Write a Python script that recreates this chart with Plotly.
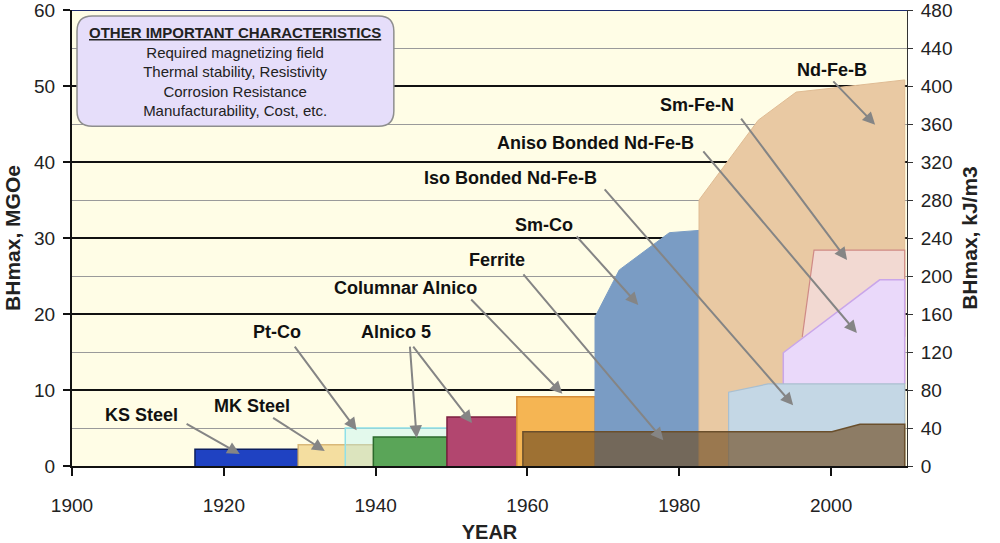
import plotly.graph_objects as go

# ---------------- data (years, MGOe) ----------------
KS_X = [1916.2, 1916.2, 1929.8, 1929.8]
KS_Y = [0, 2.2, 2.2, 0]
MK_X = [1929.8, 1929.8, 1939.7, 1939.7]
MK_Y = [0, 2.8, 2.8, 0]
PTCO_X = [1936.0, 1936.0, 1958.75, 1958.75]
PTCO_Y = [0, 5.0, 5.0, 0]
ALN5A_X = [1939.7, 1939.7, 1949.4, 1949.4]
ALN5A_Y = [0, 3.8, 3.8, 0]
ALN5B_X = [1949.4, 1949.4, 1958.75, 1958.75]
ALN5B_Y = [0, 6.45, 6.45, 0]
COLALN_X = [1958.6, 1958.6, 1968.9, 1968.9]
COLALN_Y = [0, 9.1, 9.1, 0]
SMCO_X = [1968.9, 1968.9, 1972.1, 1978.7, 1982.6, 1982.6]
SMCO_Y = [0, 19.6, 25.8, 30.7, 31.0, 0]
NDFEB_X = [1982.6, 1982.6, 1990.4, 1995.4, 2000.0, 2009.7, 2009.7]
NDFEB_Y = [0, 35.0, 45.5, 49.2, 49.7, 50.8, 0]
SMFEN_X = [1996.2, 1997.75, 2009.7, 2009.7]
SMFEN_Y = [17.0, 28.4, 28.4, 17.0]
ANISO_X = [1993.7, 1993.7, 2006.4, 2009.7, 2009.7]
ANISO_Y = [10.8, 14.9, 24.5, 24.5, 10.8]
ISO_X = [1986.5, 1986.5, 1991.7, 2009.7, 2009.7]
ISO_Y = [0, 9.7, 10.8, 10.8, 0]
FERRITE_X = [1959.4, 1959.4, 2000.1, 2003.8, 2009.7, 2009.7]
FERRITE_Y = [0, 4.5, 4.5, 5.5, 5.5, 0]

# labels: text, label x, label y
LABELS = ["KS Steel", "MK Steel", "Pt-Co", "Alnico 5", "Columnar Alnico", "Ferrite",
          "Sm-Co", "Iso Bonded Nd-Fe-B", "Aniso Bonded Nd-Fe-B", "Sm-Fe-N", "Nd-Fe-B"]
LABEL_X = [1909.1, 1923.7, 1927.0, 1942.7, 1943.9, 1956.0, 1962.2, 1957.8, 1969.0, 1982.3, 2000.1]
LABEL_Y = [6.7, 7.9, 17.6, 17.6, 23.4, 27.1, 31.7, 37.9, 42.5, 47.5, 52.1]

# arrows: start (tail) and tip
ARROW_X0 = [1914.9, 1926.3, 1929.2, 1944.5, 1944.8, 1952.4, 1959.3, 1966.3, 1970.0, 1983.0, 1988.0, 2000.1]
ARROW_Y0 = [5.66, 6.45, 15.9, 15.9, 15.9, 22.1, 25.4, 30.4, 36.6, 41.6, 45.9, 50.8]
ARROW_X1 = [1922.1, 1933.3, 1937.5, 1945.4, 1952.7, 1964.6, 1977.9, 1974.6, 1995.0, 2003.4, 2002.1, 2005.8]
ARROW_Y1 = [1.58, 1.97, 4.7, 3.7, 5.66, 9.5, 3.4, 21.2, 8.0, 17.5, 27.1, 44.9]

BOX_X = [1900.66, 1942.4]
BOX_Y = [44.7, 59.2]
BOX_R = [2.0, 2.0]
BOX_TEXT_POS = [1921.5, 51.9]
BOX_TITLE = "OTHER IMPORTANT CHARACTERISTICS"
BOX_LINES = ["Required magnetizing field", "Thermal stability, Resistivity",
             "Corrosion Resistance", "Manufacturability, Cost, etc."]

X_RANGE = [1900, 2010]
Y_RANGE = [0, 60]
Y2_RANGE = [0, 480]
X_TICKS = [1900, 1920, 1940, 1960, 1980, 2000]
Y_TICKS = [0, 10, 20, 30, 40, 50, 60]
Y2_TICKS = [0, 40, 80, 120, 160, 200, 240, 280, 320, 360, 400, 440, 480]

FONT = "Arial, 'Liberation Sans', sans-serif"

fig = go.Figure()

def region(x, y, fill, line, width=1.5):
    fig.add_trace(go.Scatter(x=x, y=y, fill="toself", mode="lines",
                             fillcolor=fill, line=dict(color=line, width=width),
                             hoverinfo="skip", showlegend=False))

region(KS_X, KS_Y, "#1f42c2", "#0d1f5c")
region(MK_X, MK_Y, "#f4dea0", "#d9b878")
region(PTCO_X, PTCO_Y, "rgba(175,240,245,0.35)", "#8fe0e8")
region(ALN5A_X, ALN5A_Y, "#5aa558", "#2c6a2c")
region(ALN5B_X, ALN5B_Y, "#b2466f", "#7d1f40")
region(COLALN_X, COLALN_Y, "#f5b553", "#d48c38")
region(SMCO_X, SMCO_Y, "#7a9cc4", "#7a9cc4", 1)
region(NDFEB_X, NDFEB_Y, "#e9c9a3", "#e0bc94", 1)
region(SMFEN_X, SMFEN_Y, "#f2d9d2", "#cf8a86", 1.2)
region(ANISO_X, ANISO_Y, "#ead9fa", "#c9a6ea", 1.5)
region(ISO_X, ISO_Y, "#c4d7e5", "#a9bfd0", 1.2)
region(FERRITE_X, FERRITE_Y, "rgba(112,78,35,0.66)", "#6a4f2c", 1.5)

# dummy trace to carry the right axis
fig.add_trace(go.Scatter(x=[X_RANGE[0]], y=[Y2_RANGE[0]], yaxis="y2", mode="markers",
                         marker=dict(opacity=0), hoverinfo="skip", showlegend=False))

annotations = []
for t, x, y in zip(LABELS, LABEL_X, LABEL_Y):
    annotations.append(dict(x=x, y=y, xref="x", yref="y", text="<b>%s</b>" % t,
                            showarrow=False, font=dict(family=FONT, size=18, color="#111")))
for x0, y0, x1, y1 in zip(ARROW_X0, ARROW_Y0, ARROW_X1, ARROW_Y1):
    annotations.append(dict(x=x1, y=y1, ax=x0, ay=y0, xref="x", yref="y",
                            axref="x", ayref="y", text="", showarrow=True,
                            arrowhead=2, arrowsize=1.25, arrowwidth=2,
                            arrowcolor="#858585", standoff=0))
box_text = "<u><b>%s</b></u><br>" % BOX_TITLE + "<br>".join(BOX_LINES)
annotations.append(dict(x=BOX_TEXT_POS[0], y=BOX_TEXT_POS[1], xref="x", yref="y",
                        text=box_text, showarrow=False, align="center",
                        font=dict(family=FONT, size=15, color="#222")))

x0, x1 = BOX_X
y0, y1 = BOX_Y
rx, ry = BOX_R
path = (f"M {x0+rx},{y0} L {x1-rx},{y0} Q {x1},{y0} {x1},{y0+ry} "
        f"L {x1},{y1-ry} Q {x1},{y1} {x1-rx},{y1} L {x0+rx},{y1} "
        f"Q {x0},{y1} {x0},{y1-ry} L {x0},{y0+ry} Q {x0},{y0} {x0+rx},{y0} Z")

shapes = [
    dict(type="path", path=path, xref="x", yref="y", fillcolor="#e6defa",
         line=dict(color="#8e8e8e", width=1.5), layer="above"),
    dict(type="line", xref="paper", yref="y", x0=0, x1=1, y0=Y_RANGE[1], y1=Y_RANGE[1],
         line=dict(color="#1c2a6e", width=2), layer="above"),
]

fig.update_layout(
    width=1000, height=543,
    margin=dict(l=72, r=93, t=10, b=77),
    paper_bgcolor="white", plot_bgcolor="#fffde6",
    font=dict(family=FONT, size=19, color="#222"),
    annotations=annotations, shapes=shapes,
    xaxis=dict(range=X_RANGE, tickvals=X_TICKS, showgrid=False, zeroline=False,
               showline=True, linecolor="#111", linewidth=2, automargin=False,
               ticks="outside", ticklen=8, tickwidth=2, tickcolor="#111",
               ticklabelstandoff=13, ticklabeloverflow="allow",
               title=dict(text="<b>YEAR</b>", font=dict(size=20), standoff=18)),
    yaxis=dict(range=Y_RANGE, tickvals=Y_TICKS, showgrid=True, gridcolor="#111", gridwidth=1.5,
               zeroline=False, showline=True, linecolor="#111", linewidth=2, automargin=False,
               ticks="outside", ticklen=7, tickwidth=2, tickcolor="#111",
               ticklabelstandoff=4, ticklabeloverflow="allow",
               minor=dict(dtick=5, showgrid=True, gridcolor="#9a9a9a", gridwidth=1),
               title=dict(text="<b>BHmax, MGOe</b>", font=dict(size=21), standoff=8)),
    yaxis2=dict(range=Y2_RANGE, tickvals=Y2_TICKS, overlaying="y", side="right", showgrid=False,
                zeroline=False, showline=True, linecolor="#333", linewidth=1, automargin=False,
                ticks="outside", ticklen=5, tickwidth=1, tickcolor="#333",
                ticklabelstandoff=4, ticklabeloverflow="allow",
                title=dict(text="<b>BHmax, kJ/m3</b>", font=dict(size=21), standoff=10)),
)

fig.write_html("out.html")
